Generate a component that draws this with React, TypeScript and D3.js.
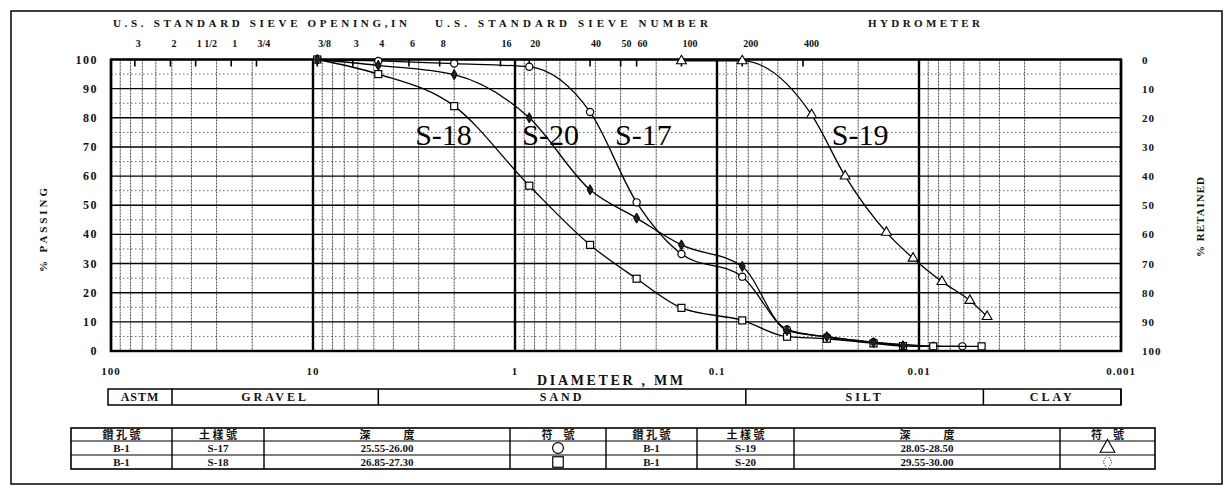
import * as d3 from 'd3'

// sieve openings (mm) and the labels printed above the grid
const sieveSizes = [76.2, 50.8, 38.1, 25.4, 19.05, 9.525, 6.35, 4.75, 3.35, 2.36, 1.18, 0.85, 0.425, 0.3, 0.25, 0.15, 0.075, 0.0375]
const sieveLabels = ['3', '2', '1 1/2', '1', '3/4', '3/8', '3', '4', '6', '8', '16', '20', '40', '50', '60', '100', '200', '400']

const decadeValues = [100, 10, 1, 0.1, 0.01, 0.001]
const decadeLabels = ['100', '10', '1', '0.1', '0.01', '0.001']
const passTicks = [0, 10, 20, 30, 40, 50, 60, 70, 80, 90, 100]

// grain size curves: diameter (mm) and % passing
const s17Diam = [9.525, 4.75, 2.0, 0.85, 0.425, 0.25, 0.15, 0.075, 0.045, 0.0286, 0.0168, 0.0085, 0.0061]
const s17Pass = [100, 99.5, 98.6, 97.5, 82, 51, 33.3, 25.5, 7.4, 4.8, 3.0, 1.7, 1.6]

const s18Diam = [9.525, 4.75, 2.0, 0.85, 0.425, 0.25, 0.15, 0.075, 0.045, 0.0286, 0.0168, 0.012, 0.0085, 0.0049]
const s18Pass = [100, 95, 84, 56.7, 36.4, 24.8, 14.8, 10.5, 4.9, 4.2, 2.6, 1.7, 1.6, 1.6]

const s19Diam = [0.15, 0.075, 0.034, 0.0232, 0.0145, 0.0107, 0.0077, 0.0056, 0.0046]
const s19Pass = [99.5, 99.5, 81, 60, 40.7, 31.8, 23.8, 17.3, 11.8]

const s20Diam = [9.525, 4.75, 2.0, 0.85, 0.425, 0.25, 0.15, 0.075, 0.045, 0.0286, 0.0168, 0.012]
const s20Pass = [100, 98, 94.8, 80, 55.3, 45.6, 36.4, 29, 7.0, 4.9, 2.9, 1.8]

const seriesNames = ['S-17', 'S-18', 'S-19', 'S-20']
const seriesMarkers = ['circle', 'square', 'triangle', 'diamond']
// where the big curve names sit (diameter, % passing at baseline)
const nameDiam = [0.32, 3.12, 0.027, 0.92]
const namePass = [70.8, 70.8, 70.8, 70.8]

// soil classification band
const classNames = ['GRAVEL', 'SAND', 'SILT', 'CLAY']
const classBounds = [0.072, 0.0048]

// legend table
const boreholes = ['B-1', 'B-1', 'B-1', 'B-1']
const depths = ['25.55-26.00', '26.85-27.30', '28.05-28.50', '29.55-30.00']

const serif = '"Liberation Serif", "DejaVu Serif", serif'
const cjk = '"Noto Sans CJK TC", "Noto Sans CJK SC", sans-serif'

function Marker({ kind, x, y, scale = 1 }: { kind: string; x: number; y: number; scale?: number }) {
  if (kind === 'circle') {
    return <circle cx={x} cy={y} r={3.6 * scale} fill="#fff" stroke="#000" strokeWidth={1.2} />
  }
  if (kind === 'square') {
    const s = 7 * scale
    return <rect x={x - s / 2} y={y - s / 2} width={s} height={s} fill="#fff" stroke="#000" strokeWidth={1.2} />
  }
  if (kind === 'triangle') {
    const p = d3.symbol(d3.symbolTriangle, 42 * scale * scale)()
    return <path d={p || ''} transform={`translate(${x},${y})`} fill="#fff" stroke="#000" strokeWidth={1.1} />
  }
  const p = d3.symbol(d3.symbolDiamond, 30 * scale * scale)()
  return <path d={p || ''} transform={`translate(${x},${y})`} fill={scale > 1 ? '#fff' : '#222'} stroke="#000" strokeWidth={scale > 1 ? 0.8 : 1} strokeDasharray={scale > 1 ? '1.5,1.5' : undefined} />
}

export default function App() {
  const x = d3.scaleLog().domain([100, 0.001]).range([111, 1121])
  const y = d3.scaleLinear().domain([0, 100]).range([351, 59.5])

  const minors: number[] = []
  for (let e = -3; e <= 1; e++) {
    for (let m = 2; m <= 9; m++) minors.push(m * Math.pow(10, e))
  }
  const halfTicks = d3.range(5, 100, 10)

  const curves = [
    { diam: s17Diam, pass: s17Pass },
    { diam: s18Diam, pass: s18Pass },
    { diam: s19Diam, pass: s19Pass },
    { diam: s20Diam, pass: s20Pass },
  ]
  const line = d3
    .line<[number, number]>()
    .x(d => d[0])
    .y(d => d[1])
    .curve(d3.curveMonotoneX)

  const bandTop = 389
  const bandBottom = 405
  const astmRight = 172
  const bandEdges = [astmRight, x(4.75), x(classBounds[0]), x(classBounds[1]), x(0.001)]

  const cols = [71, 172, 264, 510, 606, 697, 794, 1060, 1155]
  const rows = [428, 441, 455, 469]
  const headers = ['鑽 孔 號', '土 樣 號', '深　　　度', '符　號']

  const [x0, x1] = x.range()
  const [yb, yt] = y.range()

  return (
    <svg width={1224} height={487} style={{ position: 'absolute', left: 0, top: 0, background: '#fff' }}>
      {/* outer frame */}
      <rect x={11} y={11} width={1211} height={473} fill="none" stroke="#000" strokeWidth={1.5} />

      {/* headers above the grid */}
      <g fontFamily={serif} fontWeight="bold" fontSize={11} fill="#111">
        <text x={113} y={27} textLength={294} lengthAdjust="spacing">U.S. STANDARD SIEVE OPENING,IN</text>
        <text x={435} y={27} textLength={273} lengthAdjust="spacing">U.S. STANDARD SIEVE NUMBER</text>
        <text x={868} y={27} textLength={112} lengthAdjust="spacing">HYDROMETER</text>
      </g>
      <g fontFamily={serif} fontWeight="bold" fontSize={10} fill="#111">
        {sieveSizes.map((s, i) => (
          <text key={i} x={x(s) + 1} y={47}>{sieveLabels[i]}</text>
        ))}
      </g>

      {/* grid */}
      <g>
        {minors.map((m, i) => (
          <line key={i} x1={x(m)} x2={x(m)} y1={yt} y2={yb} stroke="#333" strokeWidth={0.9} strokeDasharray="2,1" />
        ))}
        {halfTicks.map(t => (
          <line key={t} x1={x0} x2={x1} y1={y(t)} y2={y(t)} stroke="#444" strokeWidth={0.8} strokeDasharray="1.5,2.5" />
        ))}
        {passTicks.map(t => (
          <line key={t} x1={x0} x2={x1} y1={y(t)} y2={y(t)} stroke="#000" strokeWidth={1.4} />
        ))}
        {decadeValues.map(v => (
          <line key={v} x1={x(v)} x2={x(v)} y1={yt} y2={yb} stroke="#000" strokeWidth={2.4} />
        ))}
        {sieveSizes.map((s, i) => (
          <line key={i} x1={x(s)} x2={x(s)} y1={yt} y2={yt + 7} stroke="#000" strokeWidth={1.6} />
        ))}
        <rect x={x0} y={yt} width={x1 - x0} height={yb - yt} fill="none" stroke="#000" strokeWidth={2.4} />
      </g>

      {/* axis labels */}
      <g fontFamily={serif} fontWeight="bold" fontSize={12} fill="#111">
        {passTicks.map(t => (
          <text key={t} x={98} y={y(t) + 4} textAnchor="end" letterSpacing={1.5}>{t}</text>
        ))}
      </g>
      <g fontFamily={serif} fontWeight="bold" fontSize={11} fill="#111">
        {passTicks.map(t => (
          <text key={t} x={1142} y={y(t) + 4} letterSpacing={1}>{100 - t}</text>
        ))}
        {decadeValues.map((v, i) => (
          <text key={v} x={x(v)} y={375} textAnchor="middle" letterSpacing={1}>{decadeLabels[i]}</text>
        ))}
        <text transform="translate(47,230) rotate(-90)" textAnchor="middle" textLength={84} lengthAdjust="spacing">% PASSING</text>
        <text transform="translate(1204,217) rotate(-90)" textAnchor="middle" textLength={80} lengthAdjust="spacing">% RETAINED</text>
      </g>
      <text x={537} y={385} fontFamily={serif} fontWeight="bold" fontSize={14} textLength={146} lengthAdjust="spacing" fill="#111">
        DIAMETER , MM
      </text>

      {/* curves */}
      {curves.map((c, i) => {
        const pts = c.diam.map((d, j) => [x(d), y(c.pass[j])] as [number, number])
        return (
          <g key={i}>
            <path d={line(pts) || ''} fill="none" stroke="#000" strokeWidth={1.3} />
            {pts.map((p, j) => (
              <Marker key={j} kind={seriesMarkers[i]} x={p[0]} y={p[1]} />
            ))}
          </g>
        )
      })}
      <g fontFamily={serif} fontSize={30} fill="#000">
        {seriesNames.map((n, i) => (
          <text key={n} x={x(nameDiam[i])} y={y(namePass[i])}>{n}</text>
        ))}
      </g>

      {/* classification band */}
      <g fontFamily={serif} fontWeight="bold" fontSize={12} fill="#111">
        <rect x={108} y={bandTop} width={x(0.001) - 108} height={bandBottom - bandTop} fill="none" stroke="#000" strokeWidth={1.5} />
        {bandEdges.map((b, i) => (
          <line key={i} x1={b} x2={b} y1={bandTop} y2={bandBottom} stroke="#000" strokeWidth={1.5} />
        ))}
        <text x={(108 + astmRight) / 2} y={bandBottom - 4} textAnchor="middle" letterSpacing={1}>ASTM</text>
        {classNames.map((n, i) => (
          <text key={n} x={(bandEdges[i] + bandEdges[i + 1]) / 2} y={bandBottom - 4} textAnchor="middle" letterSpacing={3}>{n}</text>
        ))}
      </g>

      {/* legend table */}
      <g stroke="#000">
        <rect x={cols[0]} y={rows[0]} width={cols[8] - cols[0]} height={rows[3] - rows[0]} fill="none" strokeWidth={1.6} />
        {rows.slice(1, 3).map(r => (
          <line key={r} x1={cols[0]} x2={cols[8]} y1={r} y2={r} strokeWidth={1.2} />
        ))}
        {cols.slice(1, 8).map(c => (
          <line key={c} x1={c} x2={c} y1={rows[0]} y2={rows[3]} strokeWidth={1.4} />
        ))}
      </g>
      {[0, 4].map(off => (
        <g key={off}>
          {headers.map((h, k) => (
            <text key={k} x={(cols[off + k] + cols[off + k + 1]) / 2} y={rows[0] + 11} textAnchor="middle" fontFamily={cjk} fontWeight="bold" fontSize={11} fill="#111">
              {h}
            </text>
          ))}
          {[0, 1].map(r => {
            const i = off / 2 + r
            const cy = (rows[r + 1] + rows[r + 2]) / 2
            return (
              <g key={r} fontFamily={serif} fontWeight="bold" fontSize={11} fill="#111">
                <text x={(cols[off] + cols[off + 1]) / 2} y={cy + 4} textAnchor="middle">{boreholes[i]}</text>
                <text x={(cols[off + 1] + cols[off + 2]) / 2} y={cy + 4} textAnchor="middle">{seriesNames[i]}</text>
                <text x={(cols[off + 2] + cols[off + 3]) / 2} y={cy + 4} textAnchor="middle">{depths[i]}</text>
                <Marker kind={seriesMarkers[i]} x={(cols[off + 3] + cols[off + 4]) / 2} y={cy} scale={1.5} />
              </g>
            )
          })}
        </g>
      ))}
    </svg>
  )
}
